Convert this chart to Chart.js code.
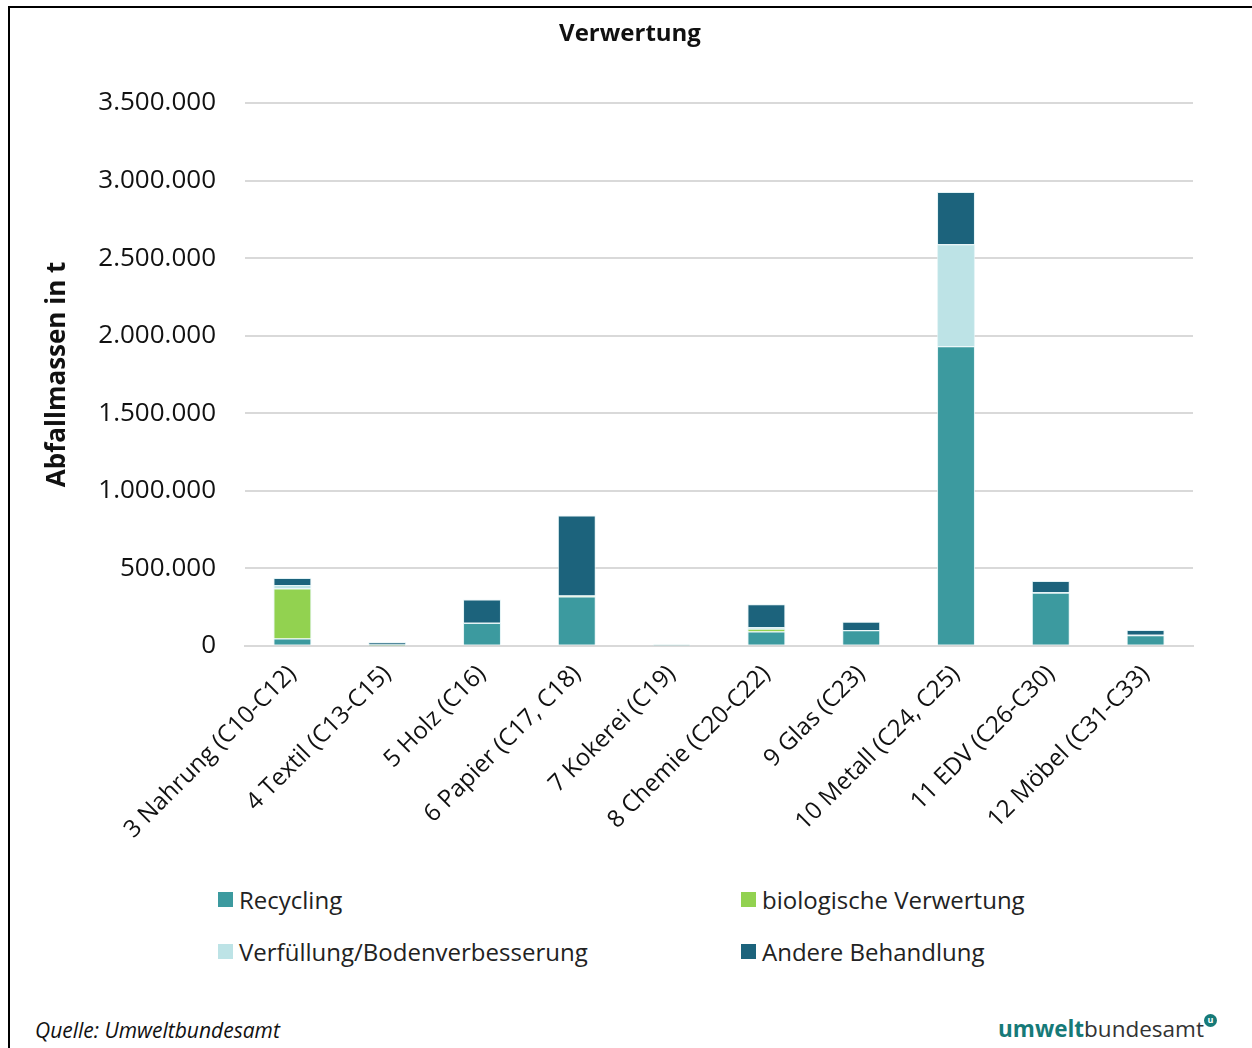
<!DOCTYPE html>
<html>
<head>
<meta charset="utf-8">
<script src="https://cdn.jsdelivr.net/npm/chart.js@4.4.1/dist/chart.umd.min.js"></script>
<style>
  html, body { margin: 0; padding: 0; background: #fff; }
  body { width: 1252px; height: 1048px; position: relative; overflow: hidden; font-family: "Open Sans", sans-serif; }
  #frame { position: absolute; left: 8px; top: 6px; width: 1260px; height: 1060px; border: 2px solid #000; box-sizing: border-box; }
  #wrap { position: absolute; left: 0; top: 0; width: 1252px; height: 858px; }
  #title { position: absolute; left: 430px; width: 400px; top: 15px; text-align: center; font-size: 24px; font-weight: 700; color: #111; }
  .legend { position: absolute; font-size: 24px; color: #222; display: flex; align-items: center; }
  .legend i { display: inline-block; width: 15px; height: 15px; margin-right: 6px; }
  #source { position: absolute; left: 35px; top: 1016px; font-size: 21px; font-style: italic; color: #111; }
  #logo { position: absolute; left: 998px; top: 1013px; font-size: 22.5px; color: #333; }
  #logo b { color: #167a78; font-weight: 700; }
  #logo span.u { position: absolute; right: -13px; top: 1px; width: 13px; height: 13px; border-radius: 50%; background: #167a78; color: #fff; font-size: 9px; font-weight: 700; line-height: 12px; text-align: center; }
</style>
</head>
<body>
<div id="frame"></div>
<div id="wrap"><canvas id="chart"></canvas></div>
<div id="title">Verwertung</div>
<div id="legend"></div>
<div id="source">Quelle: Umweltbundesamt</div>
<div id="logo"><b>umwelt</b>bundesamt<span class="u">u</span></div>
<script>
const categories = [
  "3 Nahrung (C10-C12)", "4 Textil (C13-C15)", "5 Holz (C16)", "6 Papier (C17, C18)",
  "7 Kokerei (C19)", "8 Chemie (C20-C22)", "9 Glas (C23)", "10 Metall (C24, C25)",
  "11 EDV (C26-C30)", "12 Möbel (C31-C33)"
];
const recycling   = [47000, 3000, 147000, 318000, 2000, 92000, 101000, 1931000, 342000, 69000];
const biologisch  = [323000, 6000, 0, 3000, 0, 19000, 0, 0, 0, 0];
const verfuellung = [22000, 0, 2000, 4000, 5000, 10000, 2000, 659000, 3000, 2000];
const andere      = [45000, 15000, 150000, 515000, 0, 148000, 52000, 336000, 73000, 32000];

const seriesNames = ["Recycling", "biologische Verwertung", "Verfüllung/Bodenverbesserung", "Andere Behandlung"];
const seriesColors = ["#3c9a9f", "#92d250", "#bde3e6", "#1c637c"];
const yTicks = [0, 500000, 1000000, 1500000, 2000000, 2500000, 3000000, 3500000];

function fmt(v) {
  return String(v).replace(/\B(?=(\d{3})+(?!\d))/g, ".");
}

const seriesData = [recycling, biologisch, verfuellung, andere];

new Chart(document.getElementById("chart"), {
  type: "bar",
  data: {
    labels: categories,
    datasets: seriesData.map((d, i) => ({
      label: seriesNames[i],
      data: d,
      backgroundColor: seriesColors[i],
      borderColor: "rgba(220,240,242,0.8)",
      borderWidth: 1,
      barPercentage: 0.8,
      categoryPercentage: 0.5,
    })),
  },
  options: {
    responsive: true,
    maintainAspectRatio: false,
    animation: false,
    layout: { padding: { left: 40, right: 59, top: 103, bottom: 8 } },
    plugins: {
      legend: { display: false },
      tooltip: { enabled: false },
      title: { display: false },
    },
    scales: {
      x: {
        stacked: true,
        grid: { display: false },
        border: { display: true, color: "#d9d9d9", width: 2 },
        ticks: {
          color: "#111",
          font: { family: "Open Sans", size: 24 },
          maxRotation: 45,
          minRotation: 45,
          padding: 6,
        },
        afterFit: (scale) => { scale.paddingLeft = 0; },
      },
      y: {
        stacked: true,
        min: 0,
        max: 3500000,
        afterBuildTicks: (axis) => { axis.ticks = yTicks.map((v) => ({ value: v })); },
        grid: { color: "#d9d9d9", lineWidth: 2, drawTicks: false },
        border: { display: false },
        ticks: {
          color: "#111",
          font: { family: "Open Sans", size: 26 },
          padding: 29,
          callback: (v) => fmt(v),
        },
        title: {
          display: true,
          text: "Abfallmassen in t",
          color: "#111",
          font: { family: "Open Sans", size: 26, weight: "bold" },
          padding: { top: 2, bottom: 23 },
        },
        // fixed axis width so the plot starts where the original does
        afterFit: (scale) => { scale.width = 205; },
      },
    },
  },
});

const legendPos = [[218, 883], [741, 883], [218, 935], [741, 935]];
const legendEl = document.getElementById("legend");
seriesNames.forEach((name, i) => {
  const div = document.createElement("div");
  div.className = "legend";
  div.style.left = legendPos[i][0] + "px";
  div.style.top = legendPos[i][1] + "px";
  div.innerHTML = `<i style="background:${seriesColors[i]}"></i>${name}`;
  legendEl.appendChild(div);
});
</script>
</body>
</html>
